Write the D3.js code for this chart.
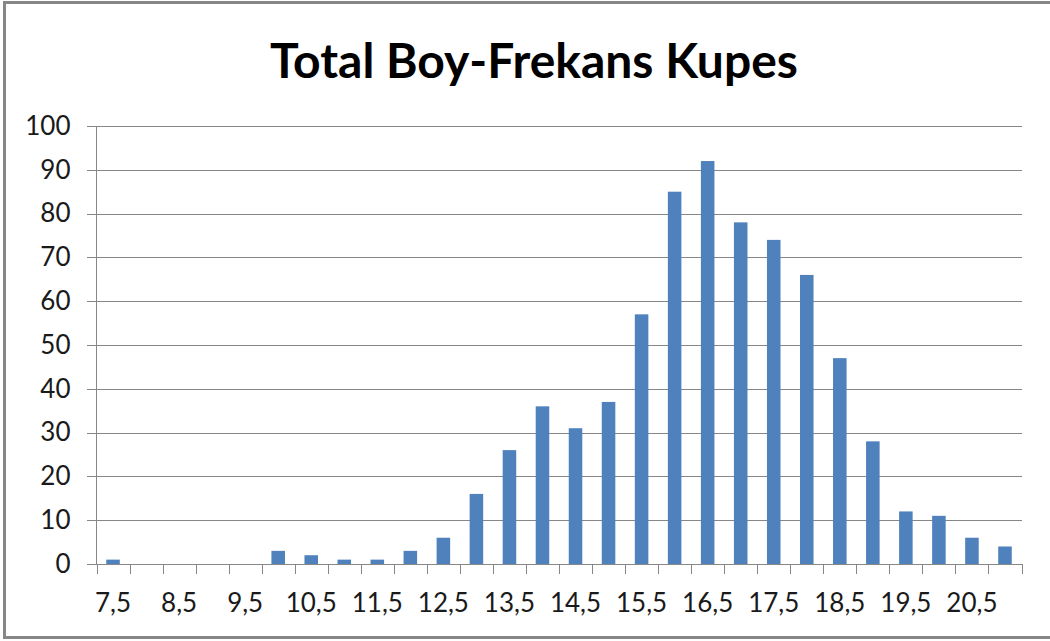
<!DOCTYPE html>
<html>
<head>
<meta charset="utf-8">
<script src="https://cdn.jsdelivr.net/npm/d3@7"></script>
<style>
  html, body { margin: 0; padding: 0; background: #fff; }
  svg { display: block; }
  text { font-family: Lato, "Open Sans", "Liberation Sans", sans-serif; fill: #1a1a1a; }
</style>
</head>
<body>
<div id="chart"></div>
<script>
// categories (class centres) and frequencies
var categories = ["7,5","8","8,5","9","9,5","10","10,5","11","11,5","12","12,5","13","13,5","14",
                  "14,5","15","15,5","16","16,5","17","17,5","18","18,5","19","19,5","20","20,5","21"];
var frequencies = [1,0,0,0,0,3,2,1,1,3,6,16,26,36,31,37,57,85,92,78,74,66,47,28,12,11,6,4];
var yTicks = [0,10,20,30,40,50,60,70,80,90,100];
var title = "Total Boy-Frekans Kupes";

var width = 1050, height = 641;
var margin = {top: 126, right: 28.5, bottom: 77, left: 96.5};
var gray = "#878787";

var svg = d3.select("#chart").append("svg")
  .attr("width", width)
  .attr("height", height);

// outer chart frame
svg.append("rect")
  .attr("x", 4.5).attr("y", 2.5)
  .attr("width", width + 10).attr("height", 635)
  .attr("fill", "none")
  .attr("stroke", gray)
  .attr("stroke-width", 3);

var x = d3.scaleBand()
  .domain(categories)
  .range([margin.left, width - margin.right])
  .paddingInner(0.59)
  .paddingOuter(0.295);

var y = d3.scaleLinear()
  .domain([0, 100])
  .range([height - margin.bottom, margin.top]);

// title
svg.append("text")
  .attr("x", 534)
  .attr("y", 78)
  .attr("text-anchor", "middle")
  .style("font-size", "48px")
  .style("font-weight", "bold")
  .style("fill", "#000")
  .text(title);

// gridlines + y axis
var yAxis = svg.append("g")
  .attr("transform", "translate(" + margin.left + ",0)")
  .call(d3.axisLeft(y).tickValues(yTicks).tickSize(-(width - margin.left - margin.right)).tickPadding(26).tickSizeOuter(0));
yAxis.select(".domain").remove();
yAxis.selectAll(".tick line")
  .attr("x1", -10)
  .attr("stroke", gray)
  .attr("shape-rendering", "crispEdges");
yAxis.selectAll(".tick text")
  .style("font-size", "26px")
  .style("fill", "#1a1a1a");

// vertical axis line
svg.append("line")
  .attr("x1", margin.left).attr("x2", margin.left)
  .attr("y1", y(100)).attr("y2", y(0))
  .attr("stroke", gray)
  .attr("shape-rendering", "crispEdges");

// bars
svg.append("g").selectAll("rect")
  .data(frequencies)
  .enter().append("rect")
  .attr("x", (d, i) => x(categories[i]))
  .attr("width", x.bandwidth())
  .attr("y", d => y(d))
  .attr("height", d => y(0) - y(d))
  .attr("fill", "#4f81bd");

// x axis line
svg.append("line")
  .attr("x1", margin.left).attr("x2", width - margin.right)
  .attr("y1", y(0)).attr("y2", y(0))
  .attr("stroke", gray)
  .attr("shape-rendering", "crispEdges");

// tick marks at class boundaries
var step = x.step();
var bounds = d3.range(categories.length + 1).map(i => margin.left + i * step);
svg.append("g").selectAll("line")
  .data(bounds)
  .enter().append("line")
  .attr("x1", d => Math.round(d) + 0.5).attr("x2", d => Math.round(d) + 0.5)
  .attr("y1", y(0)).attr("y2", y(0) + 10)
  .attr("stroke", gray);

// labels on every second class
svg.append("g").selectAll("text")
  .data(categories.filter((d, i) => i % 2 === 0))
  .enter().append("text")
  .attr("x", d => x(d) + x.bandwidth() / 2)
  .attr("y", 612)
  .attr("text-anchor", "middle")
  .style("font-size", "26px")
  .text(d => d);
</script>
</body>
</html>
